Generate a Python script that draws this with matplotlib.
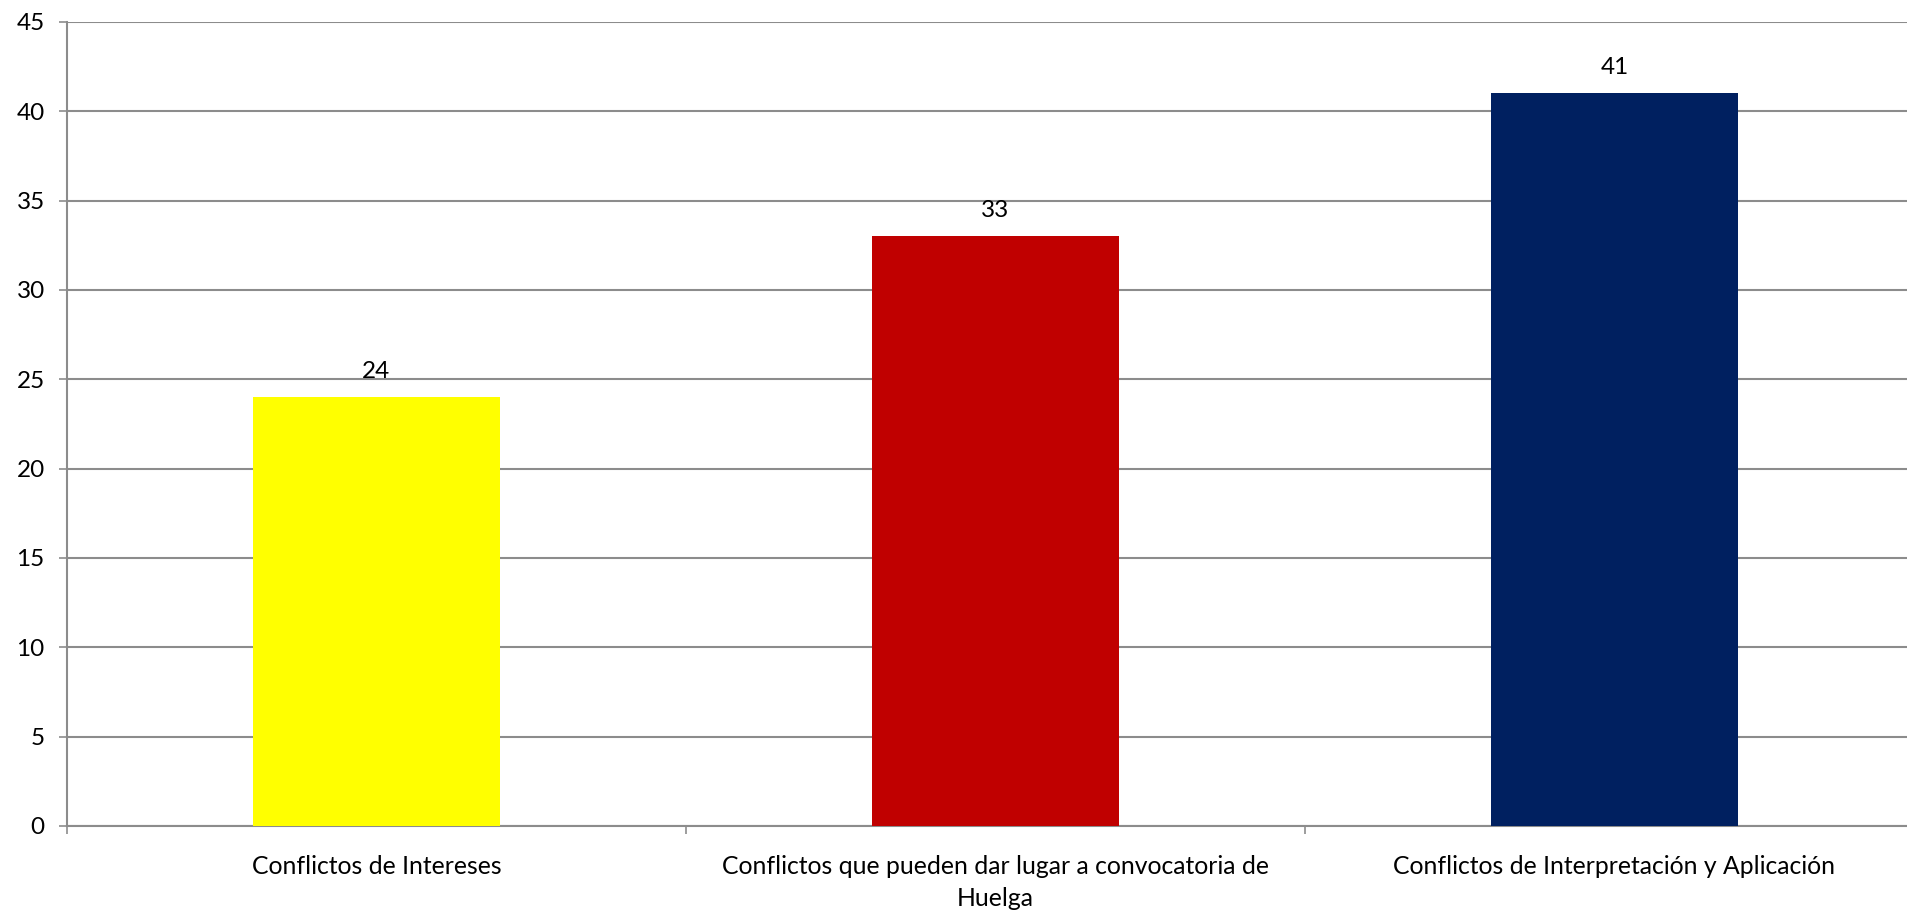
import matplotlib.pyplot as plt
from matplotlib.ticker import FixedLocator

# Datos del gráfico
categorias = [
    'Conflictos de Intereses',
    'Conflictos que pueden dar lugar a convocatoria de\nHuelga',
    'Conflictos de Interpretación y Aplicación',
]
valores = [24, 33, 41]
colores = ['#FFFF00', '#C00000', '#002060']

plt.rcParams['font.family'] = ['Lato', 'DejaVu Sans']

fig = plt.figure(figsize=(19.08, 9.16), dpi=100)
ax = fig.add_axes([67 / 1908, 90 / 916, 1857 / 1908, 804 / 916])

x = list(range(len(categorias)))
bars = ax.bar(x, valores, width=0.4, color=colores, zorder=3)

for bar, v in zip(bars, valores):
    ax.annotate(str(v), (bar.get_x() + bar.get_width() / 2, v),
                xytext=(0, 11), textcoords='offset points',
                ha='center', va='bottom', fontsize=17.5, color='#000000')

ax.set_xlim(-0.5, 2.5)
ax.set_ylim(0, 45)
ax.set_yticks(range(0, 46, 5))
ax.yaxis.grid(True, color='#8C8C8C', linewidth=1.5, zorder=0)

# ticks del eje x en los límites de categoría, etiquetas en el centro
ax.xaxis.set_major_locator(FixedLocator([-0.5, 0.5, 1.5, 2.5]))
ax.set_xticklabels([])
ax.set_xticks(x, minor=True)
ax.set_xticklabels(categorias, minor=True, fontsize=17.8, linespacing=1.45)
ax.tick_params(axis='x', which='minor', length=0, pad=21)
ax.tick_params(axis='x', which='major', length=6, width=1.2, color='#8C8C8C', direction='out')
ax.tick_params(axis='y', length=6, width=1.2, color='#8C8C8C', labelsize=17.5, pad=10)

for s in ['top', 'right']:
    ax.spines[s].set_visible(False)
for s in ['left', 'bottom']:
    ax.spines[s].set_color('#8C8C8C')
    ax.spines[s].set_linewidth(1.5)

fig.savefig('out.png', dpi=100)
